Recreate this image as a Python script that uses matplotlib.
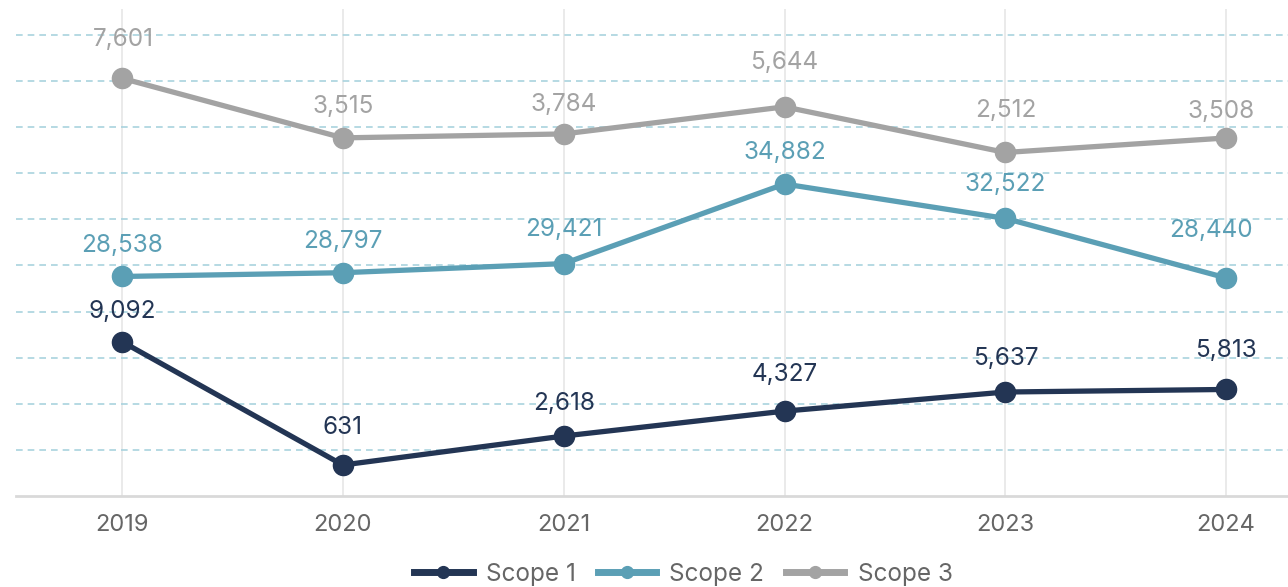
import matplotlib.pyplot as plt
from matplotlib.lines import Line2D

plt.rcParams['font.family'] = ['Inter', 'DejaVu Sans']

# data
years = ['2019', '2020', '2021', '2022', '2023', '2024']
scope1 = [9092, 631, 2618, 4327, 5637, 5813]
scope2 = [28538, 28797, 29421, 34882, 32522, 28440]
scope3 = [7601, 3515, 3784, 5644, 2512, 3508]

names = ['Scope 1', 'Scope 2', 'Scope 3']
colors = ['#233554', '#5b9fb5', '#a3a3a3']
# each series sits in its own band of the chart (own y scale)
limits = [(-1496, 31912), (13479, 46887), (-21053, 12355)]
# label lift above the marker, in pixels (labels were spread to avoid overlaps)
lifts = [[30, 37, 33, 37, 34, 39],
         [31, 31, 34, 32, 34, 47],
         [39, 31, 29, 44, 42, 26]]
shifts = [[0, 0, 0, 0, 0, 0],
          [0, 0, 0, 0, 0, -15],
          [1, 0, 0, 0, 0, -5]]

W, H = 1288, 587
fig = plt.figure(figsize=(W / 100, H / 100), dpi=100)
ax = fig.add_axes([16 / W, (H - 496) / H, (W - 16) / W, (496 - 9) / H])

x = list(range(len(years)))

for vals, name, col, lim, lift, sh in zip([scope1, scope2, scope3], names, colors,
                                          limits, lifts, shifts):
    tw = ax.twinx()
    tw.set_ylim(*lim)
    tw.axis('off')
    tw.plot(x, vals, color=col, lw=3.8, marker='o', markersize=14.5, clip_on=False)
    for xi, v in zip(x, vals):
        tw.annotate(f'{v:,}', (xi, v), xytext=(sh[xi] * 0.72, lift[xi] * 0.72),
                    textcoords='offset points', ha='center', va='center',
                    fontsize=17.5, color=col)

# background grid
ax.set_xlim(-0.48, 5.28)
ax.set_ylim(0, 487 / 46.1)
ax.set_yticks(range(1, 11))
ax.yaxis.grid(True, linestyle=(0, (4, 3)), color='#a9d3de', linewidth=1.2)
ax.xaxis.grid(True, color='#e8e8e8', linewidth=1.3)
ax.set_xticks(x)
ax.set_xticklabels(years, fontsize=17, color='#666666')
ax.tick_params(axis='y', left=False, right=False, labelleft=False, length=0)
ax.tick_params(axis='x', length=0, pad=13)
for s in ['top', 'left', 'right']:
    ax.spines[s].set_visible(False)
ax.spines['bottom'].set_color('#d9d9d9')
ax.spines['bottom'].set_linewidth(2)

handles = [Line2D([], [], color=c, lw=5, marker='o', markersize=8.5) for c in colors]
fig.legend(handles, names, loc='center', bbox_to_anchor=(683.5 / W, 1 - 574 / H),
           ncol=3, frameon=False, fontsize=17.5, handlelength=2.4, handletextpad=0.55,
           columnspacing=0.9, labelcolor='#666666')

fig.savefig('out.png', dpi=100)
